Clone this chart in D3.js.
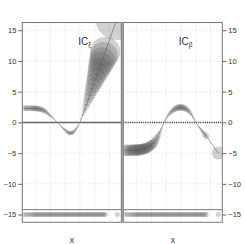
<!DOCTYPE html>
<html><head><meta charset="utf-8">
<script src="https://cdn.jsdelivr.net/npm/d3@7"></script>
<style>body{margin:0;background:#fff}</style>
</head><body>
<svg id="c" width="245" height="244"></svg>
<script>
// observation positions (x)
const xData = [-0.76,-0.60,-0.43,-0.29,-0.16,-0.05,0.05,0.15,0.25,0.35,0.45,0.56,0.66,0.76,0.86,0.96,1.06,1.16,1.27,1.37,1.47,1.57,1.67,1.77,1.87,1.98,2.08,2.18,2.28,2.38,2.48,2.58,2.69,2.79,2.89,2.99,3.09,3.19,3.30,3.40,3.50,3.60,3.70,3.80,3.90,4.01,4.11,4.21,4.31,4.41,4.51,4.61,4.72,5.53];
// influence curve values for shape (xi)
const icXi = [2.3,2.3,2.3,2.3,2.3,2.28,2.27,2.25,2.18,2.12,2.03,1.92,1.78,1.6,1.37,1.17,0.95,0.73,0.47,0.24,0.0,-0.2,-0.47,-0.73,-0.98,-1.2,-1.42,-1.6,-1.72,-1.75,-1.68,-1.5,-1.2,-0.9,-0.5,-0.05,0.6,1.27,1.95,2.6,3.3,4.0,4.65,5.35,6.0,6.7,7.4,8.1,8.75,9.45,10.1,10.8,11.5,17.0];
// influence curve values for scale (beta)
const icBeta = [-4.55,-4.55,-4.55,-4.5,-4.5,-4.5,-4.48,-4.46,-4.44,-4.4,-4.33,-4.25,-4.18,-4.07,-3.92,-3.76,-3.58,-3.3,-2.95,-2.55,-2.1,-1.6,-1.05,-0.5,0.05,0.55,0.95,1.28,1.55,1.78,2.0,2.18,2.3,2.4,2.45,2.46,2.43,2.36,2.25,2.1,1.88,1.62,1.3,0.92,0.5,0.0,-0.35,-0.7,-1.0,-1.3,-1.6,-1.95,-2.25,-5.0];
const yTicks = [-15,-10,-5,0,5,10,15];
const yGrid = [-10,-5,5,10,15];
const xGrid = [0,1,2,3,4,5];
const rugLevel = -15;
const stripLevel = -14.2;
const xLabel = "x";

const svg = d3.select("#c");
const yTop = 22.5, yBot = 222.3;
const y = d3.scaleLinear().domain([-16.26, 16.26]).range([yBot, yTop]);
const r = d3.scaleLinear().domain([0, 10]).range([0, 13]);
const fmt = d => d < 0 ? "\u2212" + Math.abs(d) : String(d);

const panels = [
  {x0: 22.3, x1: 121.3, ic: icXi, sub: "\u03BE", side: "left", zeroDash: null},
  {x0: 123.3, x1: 222.3, ic: icBeta, sub: "\u03B2", side: "right", zeroDash: "1.2,1"}
];

// separator bar between panels
svg.append("rect").attr("x", 121.3).attr("y", yTop).attr("width", 2).attr("height", yBot - yTop).attr("fill", "#aaa");

panels.forEach((p, i) => {
  const x = d3.scaleLinear().domain([-0.9, 5.8]).range([p.x0, p.x1]);
  const g = svg.append("g");
  const cid = "clip" + i;
  svg.append("clipPath").attr("id", cid).append("rect")
    .attr("x", p.x0).attr("y", yTop).attr("width", p.x1 - p.x0).attr("height", yBot - yTop);
  const inner = g.append("g").attr("clip-path", `url(#${cid})`);

  // grid
  inner.selectAll(".gx").data(xGrid).join("line")
    .attr("x1", d => x(d)).attr("x2", d => x(d)).attr("y1", yTop).attr("y2", yBot)
    .attr("stroke", "#d0d0d0").attr("stroke-width", 0.8).attr("stroke-dasharray", "1,2");
  inner.selectAll(".gy").data(yGrid).join("line")
    .attr("x1", p.x0).attr("x2", p.x1).attr("y1", d => y(d)).attr("y2", d => y(d))
    .attr("stroke", "#d0d0d0").attr("stroke-width", 0.8).attr("stroke-dasharray", "1,2");

  // zero line
  inner.append("line").attr("x1", p.x0).attr("x2", p.x1).attr("y1", y(0)).attr("y2", y(0))
    .attr("stroke", p.zeroDash ? "#444" : "#666").attr("stroke-width", 1.5)
    .attr("stroke-dasharray", p.zeroDash);
  // strip line
  inner.append("line").attr("x1", p.x0).attr("x2", p.x1).attr("y1", y(stripLevel)).attr("y2", y(stripLevel))
    .attr("stroke", "#777").attr("stroke-width", 1);

  // rug
  inner.selectAll(".rug").data(xData).join("circle")
    .attr("cx", d => x(d)).attr("cy", y(rugLevel)).attr("r", 2.5)
    .attr("fill", "#555").attr("fill-opacity", 0.27);

  // IC line
  const pts = xData.map((d, k) => [d, p.ic[k]]);
  inner.append("path").datum(pts)
    .attr("d", d3.line().x(d => x(d[0])).y(d => y(d[1])))
    .attr("fill", "none").attr("stroke", "#999").attr("stroke-width", 0.9);

  // IC points
  inner.selectAll(".pt").data(pts).join("circle")
    .attr("cx", d => x(d[0])).attr("cy", d => y(d[1])).attr("r", d => r(Math.abs(d[1])))
    .attr("fill", "#555").attr("fill-opacity", 0.27);

  // border
  g.append("rect").attr("x", p.x0).attr("y", yTop).attr("width", p.x1 - p.x0).attr("height", yBot - yTop)
    .attr("fill", "none").attr("stroke", "#777").attr("stroke-width", 1);

  // y axis
  const axis = (p.side === "left" ? d3.axisLeft(y) : d3.axisRight(y))
    .tickValues(yTicks).tickSize(4).tickPadding(2).tickFormat(fmt);
  const ag = g.append("g").attr("transform", `translate(${p.side === "left" ? p.x0 : p.x1},0)`).call(axis);
  ag.select(".domain").remove();
  ag.selectAll("line").attr("stroke", "#666");
  ag.selectAll("text").attr("fill", "#333").style("font-family", "'Liberation Sans', Arial, sans-serif").style("font-size", "7.5px");

  // title
  const cx = (p.x0 + p.x1) / 2;
  const t = g.append("text").attr("x", x(i === 0 ? 2.88 : 2.85)).attr("y", 45)
    .style("font-family", "'Liberation Sans', Arial, sans-serif").style("font-size", "10px").attr("fill", "#333");
  t.append("tspan").text("IC");
  t.append("tspan").attr("dy", 2).style("font-size", "6.5px").text(p.sub);

  // x label
  g.append("text").attr("x", cx).attr("y", 243).attr("text-anchor", "middle")
    .style("font-family", "'Liberation Sans', Arial, sans-serif").style("font-size", "8.5px").attr("fill", "#333")
    .text(xLabel);
});
</script>
</body></html>
